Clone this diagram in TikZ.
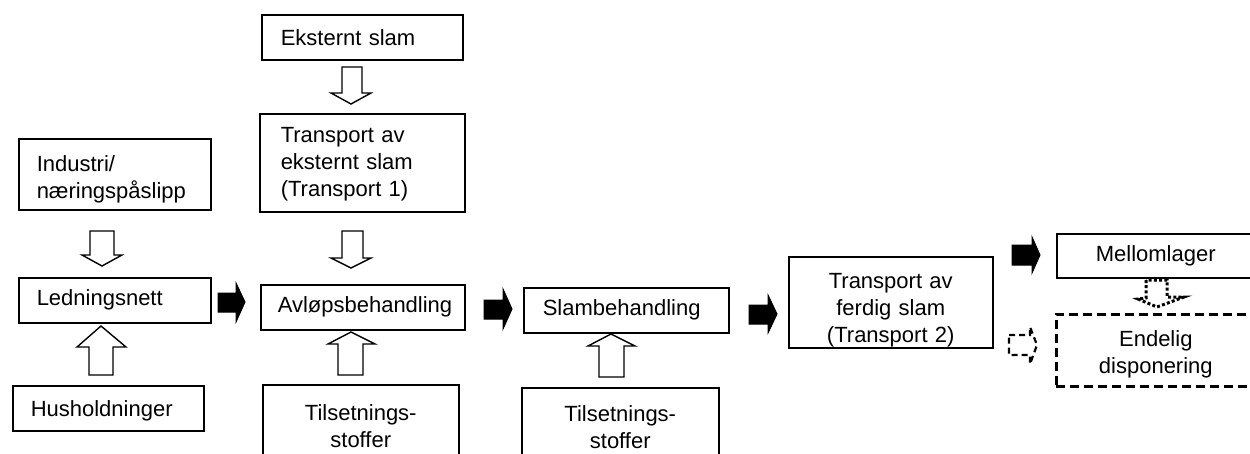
\documentclass[tikz,border=0pt]{standalone}
\usepackage{fontspec}
\setmainfont{Liberation Sans}
\newcommand{\topgap}[1]{\rule{0pt}{#1}}
\begin{document}
\begin{tikzpicture}[x=1pt,y=-1pt,
  box/.style={draw, line width=1.5pt, anchor=north west, inner ysep=0pt, font=\fontsize{22}{27}\selectfont},
  lbox/.style={box, align=left},
  cbox/.style={box, align=center, inner xsep=0pt},
  hollow/.style={draw, line width=1.4pt, fill=white, line join=miter},
  solid arrow/.style={draw, line width=1pt, fill=black},
  dotarrow/.style={draw, line width=3pt, dash pattern=on 3pt off 2.2pt, fill=white},
  dasharrow/.style={draw, line width=2.2pt, dash pattern=on 6pt off 4pt},
  dashbox/.style={cbox, line width=2.6pt, dash pattern=on 9pt off 5pt}]
\useasboundingbox (0,0) rectangle (1250,453);
\clip (0,0) rectangle (1250,453);
% boxes
\node[lbox, inner xsep=19pt, text width=163pt, minimum height=45pt] (eks) at (261,14) {Eksternt slam};
\node[lbox, inner xsep=21pt, text width=163pt, minimum height=98pt] (t1) at (259,113) {\topgap{18pt}Transport av\\eksternt slam\\(Transport 1)};
\node[lbox, inner xsep=18pt, text width=156pt, minimum height=71pt] (ind) at (18,138) {\topgap{26pt}Industri/\\næringspåslipp};
\node[lbox, inner xsep=18pt, text width=156pt, minimum height=45pt] (led) at (18,277) {Ledningsnett};
\node[lbox, inner xsep=18pt, text width=155pt, minimum height=45pt] (hus) at (12,385) {\topgap{22pt}Husholdninger};
\node[lbox, inner xsep=17pt, text width=170pt, minimum height=45pt] (avl) at (260,284) {Avløpsbehandling};
\node[lbox, inner xsep=19pt, text width=167pt, minimum height=45pt] (slam) at (523,287) {Slambehandling};
\node[cbox, text width=196pt, minimum height=82pt] (tils1) at (262,384) {Tilsetnings-\\stoffer};
\node[cbox, text width=197pt, minimum height=79pt] (tils2) at (521,387) {Tilsetnings-\\stoffer};
\node[cbox, text width=204pt, minimum height=91pt] (t2) at (788,256) {\topgap{32pt}Transport av\\ferdig slam\\(Transport 2)};
\node[cbox, text width=198pt, minimum height=44pt] (mel) at (1056,233) {Mellomlager};
\node[dashbox, text width=199pt, minimum height=72pt] (end) at (1055,313) {\topgap{23pt}Endelig\\disponering};
% hollow arrows
\draw[hollow] (90,231) -- (90,255) -- (82,255) -- (102,266) -- (122,255) -- (114,255) -- (114,231) -- cycle;
\draw[hollow] (89,375) -- (89,347) -- (77,347) -- (101,326) -- (126,347) -- (113,347) -- (113,375) -- cycle;
\draw[hollow] (342,67) -- (342,93) -- (331,93) -- (351,104) -- (371,93) -- (362,93) -- (362,67) -- cycle;
\draw[hollow] (342,231) -- (342,258) -- (331,258) -- (351,268) -- (371,258) -- (363,258) -- (363,231) -- cycle;
\draw[hollow] (338,375) -- (338,344) -- (328,344) -- (351,332) -- (375,344) -- (363,344) -- (363,375) -- cycle;
\draw[hollow] (599,377) -- (599,346) -- (588,346) -- (611,334) -- (635,346) -- (624,346) -- (624,377) -- cycle;
% solid arrows
\draw[solid arrow] (218,293) -- (236,293) -- (236,283) -- (245,302) -- (236,322) -- (236,312) -- (218,312) -- cycle;
\draw[solid arrow] (484,300) -- (503,300) -- (503,289) -- (512,309) -- (503,329) -- (503,319) -- (484,319) -- cycle;
\draw[solid arrow] (749,305) -- (768,305) -- (768,295) -- (777,314) -- (768,333) -- (768,324) -- (749,324) -- cycle;
\draw[solid arrow] (1012,245) -- (1032,245) -- (1032,237) -- (1040,255) -- (1032,273) -- (1032,265) -- (1012,265) -- cycle;
% dotted / dashed arrows
\draw[dotarrow] (1146,280) -- (1146,298) -- (1138,299) -- (1157,307) -- (1184,297) -- (1167,297) -- (1167,280) -- cycle;
\draw[dasharrow] (1009,335) -- (1030,335) -- (1030,327) -- (1037,345) -- (1030,364) -- (1030,355) -- (1009,355) -- cycle;
\end{tikzpicture}
\end{document}
